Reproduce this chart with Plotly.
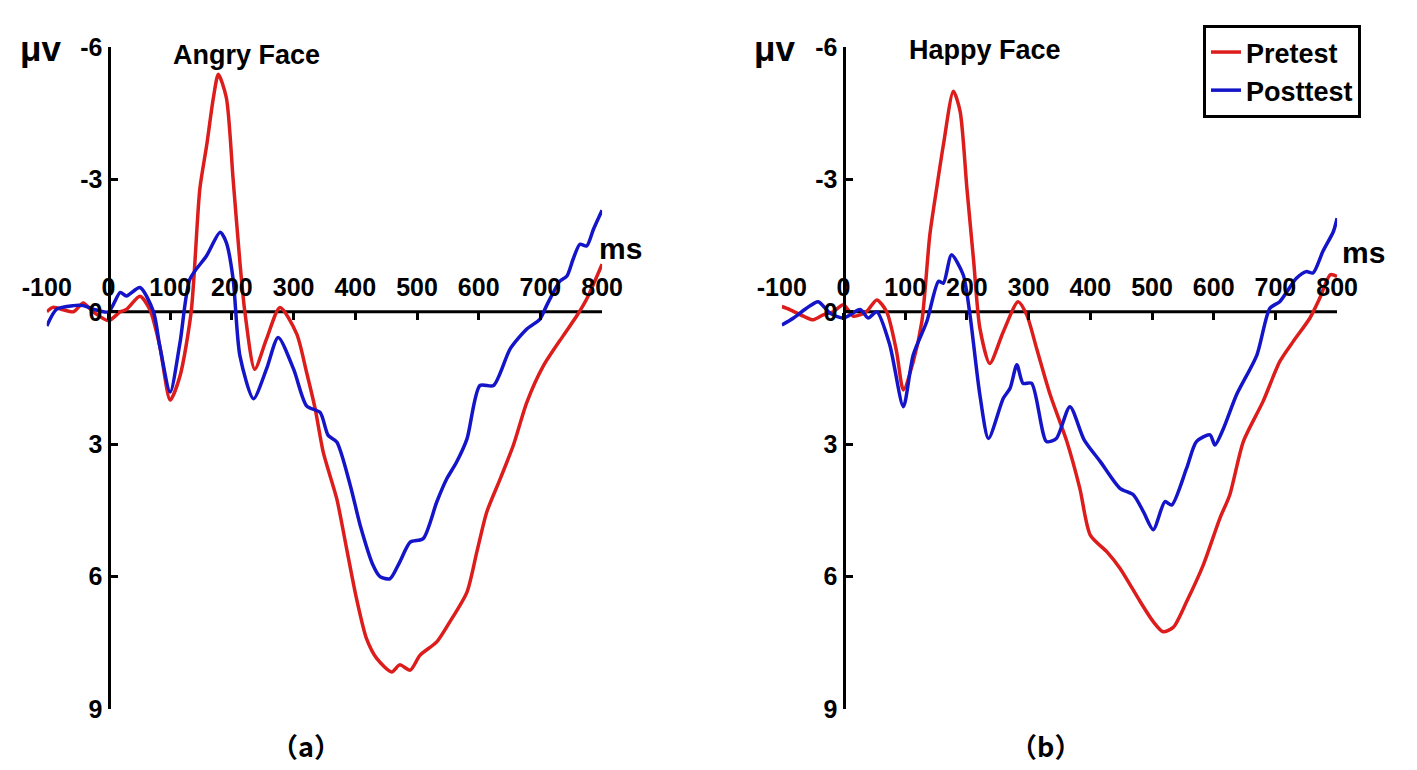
import plotly.graph_objects as go

# Angry face (a)
angry_pre_t = [-100, -90, -57, -41, -25, 0, 19, 29, 51, 67, 83, 100, 116, 134, 148, 159, 170, 178,
               191, 202, 213, 221, 237, 256, 278, 305, 321, 335, 348, 370, 386, 402, 418, 435, 459,
               472, 489, 505, 532, 553, 581, 597, 613, 635, 656, 678, 705, 737, 759, 775, 800]
angry_pre_v = [0.0, -0.1, 0.0, -0.2, 0.0, 0.2, 0.0, -0.05, -0.35, -0.05, 0.77, 2.0, 1.45, 0.0, -2.78,
               -3.76, -4.85, -5.38, -4.85, -3.0, -1.12, 0.0, 1.3, 0.62, -0.1, 0.5, 1.37, 2.2, 3.18,
               4.24, 5.37, 6.5, 7.4, 7.86, 8.16, 8.0, 8.12, 7.78, 7.48, 7.03, 6.35, 5.44, 4.54, 3.78,
               3.03, 2.05, 1.22, 0.54, 0.09, -0.29, -1.08]

angry_post_t = [-100, -84, -57, -41, -25, 0, 19, 29, 51, 73, 83, 100, 116, 132, 159, 181, 191, 202,
                213, 235, 256, 275, 300, 321, 343, 356, 370, 392, 408, 429, 440, 456, 472, 489, 510,
                532, 548, 564, 581, 602, 624, 651, 678, 699, 710, 721, 732, 743, 753, 764, 775, 786, 800]
angry_post_v = [0.32, -0.06, -0.14, -0.14, -0.06, 0.0, -0.44, -0.36, -0.55, 0.0, 0.77, 1.82, 0.69,
                -0.74, -1.27, -1.8, -1.57, -0.74, 1.0, 1.97, 1.3, 0.58, 1.3, 2.13, 2.28, 2.8, 2.95,
                3.94, 4.84, 5.75, 6.0, 6.05, 5.67, 5.22, 5.14, 4.31, 3.79, 3.41, 2.88, 1.67, 1.67,
                0.84, 0.39, 0.17, -0.14, -0.44, -0.7, -0.81, -1.19, -1.53, -1.49, -1.87, -2.3]

# Happy face (b)
happy_pre_t = [-100, -87, -65, -49, -33, -17, 0, 16, 37, 54, 70, 86, 97, 113, 127, 140, 151, 162,
               178, 189, 200, 211, 221, 237, 259, 283, 297, 313, 335, 362, 383, 400, 427, 448, 481,
               502, 518, 535, 556, 583, 610, 626, 648, 680, 707, 729, 756, 772, 789, 800]
happy_pre_v = [-0.12, -0.05, 0.1, 0.18, 0.07, 0.0, -0.16, 0.1, 0.0, -0.27, 0.0, 0.9, 1.77, 1.13, 0.22,
               -1.75, -2.8, -3.79, -5.0, -4.54, -2.8, -1.14, 0.37, 1.17, 0.45, -0.23, 0.07, 0.83,
               1.88, 2.94, 4.0, 5.06, 5.44, 5.81, 6.57, 7.02, 7.25, 7.14, 6.57, 5.74, 4.68, 4.15,
               2.94, 2.03, 1.13, 0.67, 0.14, -0.31, -0.84, -0.8]

happy_post_t = [-100, -81, -60, -41, -22, 0, 27, 40, 54, 75, 97, 113, 135, 154, 162, 175, 194, 205,
                221, 235, 259, 270, 281, 291, 305, 329, 345, 367, 390, 416, 448, 470, 486, 502, 521,
                532, 556, 572, 594, 602, 616, 637, 670, 691, 707, 734, 750, 761, 777, 794, 800]
happy_post_v = [0.3, 0.14, -0.08, -0.23, 0.03, 0.14, -0.05, 0.14, 0.0, 0.75, 2.15, 0.98, 0.22, -0.69,
                -0.65, -1.29, -0.84, 0.07, 1.88, 2.87, 1.96, 1.73, 1.2, 1.62, 1.62, 2.94, 2.87, 2.15,
                2.9, 3.39, 4.0, 4.15, 4.53, 4.94, 4.3, 4.38, 3.55, 2.94, 2.79, 3.02, 2.64, 1.88, 0.98,
                -0.08, -0.23, -0.76, -0.91, -0.88, -1.37, -1.82, -2.12]

x_ticks = [-100, 0, 100, 200, 300, 400, 500, 600, 700, 800]
x_labels = ['-100', '0', '100', '200', '300', '400', '500', '600', '700', '800']
y_ticks = [-6, -3, 0, 3, 6, 9]
y_labels = ['-6', '-3', '0', '3', '6', '9']

RED = '#dd1c1c'
BLUE = '#1414c8'
W, H = 1417, 770
FONT = 'Liberation Sans, Arial, sans-serif'
CJK = 'Noto Sans CJK SC, sans-serif'


def px(x):
    return x / W


def py(y):
    return 1 - y / H


fig = go.Figure()

panels = [('x', 'y', angry_pre_t, angry_pre_v, angry_post_t, angry_post_v, True),
          ('x2', 'y2', happy_pre_t, happy_pre_v, happy_post_t, happy_post_v, False)]
for xa, ya, pt, pv, qt, qv, leg in panels:
    fig.add_trace(go.Scatter(x=pt, y=pv, xaxis=xa, yaxis=ya, mode='lines', name='Pretest',
                             line=dict(color=RED, width=3.5, shape='spline', smoothing=0.7),
                             showlegend=leg))
    fig.add_trace(go.Scatter(x=qt, y=qv, xaxis=xa, yaxis=ya, mode='lines', name='Posttest',
                             line=dict(color=BLUE, width=3.5, shape='spline', smoothing=0.7),
                             showlegend=leg))

# y domain: -6 at 47px, 9 at 709px
y_dom = [py(709), py(47)]
y_zero = y_dom[0] + (9 - 0) / 15 * (y_dom[1] - y_dom[0])

tick_font = dict(family=FONT, size=25, color='black', weight='bold')

for i, zero_px in enumerate([108.5, 843.5]):
    sfx = '' if i == 0 else str(i + 1)
    xdom = [px(zero_px - 61.7), px(zero_px + 8 * 61.7)]
    fig.update_layout(**{
        'xaxis' + sfx: dict(domain=xdom, range=[-100, 800], anchor='free', position=y_zero,
                            side='top', ticks='inside', ticklen=7, tickwidth=3, tickcolor='black',
                            tickvals=x_ticks, ticktext=x_labels, showline=False, showgrid=False,
                            zeroline=False, tickfont=tick_font, ticklabelstandoff=11,
                            automargin=False),
        'yaxis' + sfx: dict(domain=y_dom, range=[9, -6], anchor='free', position=px(zero_px),
                            side='left', ticks='inside', ticklen=7, tickwidth=3, tickcolor='black',
                            tickvals=y_ticks, ticktext=y_labels, showline=True, linewidth=3,
                            linecolor='black', showgrid=False, zeroline=False, tickfont=tick_font,
                            automargin=False),
    })
    # x axis line from 0 to 800 at y = 0
    fig.add_shape(type='line', xref='x' + sfx, yref='y' + sfx, x0=0, x1=800, y0=0, y1=0,
                  line=dict(color='black', width=3), layer='below')

texts = [
    ('μv', 18, 48, 35, 'left', FONT), ('μv', 752, 48, 35, 'left', FONT),
    ('ms', 597, 248, 30, 'left', FONT), ('ms', 1340, 253, 30, 'left', FONT),
    ('Angry Face', 246, 55, 27, 'center', FONT), ('Happy Face', 985, 50, 27, 'center', FONT),
    ('（a）', 306, 745, 27, 'center', CJK), ('（b）', 1045, 745, 27, 'center', CJK),
]
for t, x, y, s, xa, fam in texts:
    fig.add_annotation(text=t, x=px(x), y=py(y), xref='paper', yref='paper', xanchor=xa,
                       yanchor='middle', showarrow=False,
                       font=dict(family=fam, size=s, color='black', weight='bold'))

fig.update_layout(
    width=W, height=H,
    margin=dict(l=0, r=0, t=0, b=0, autoexpand=False),
    plot_bgcolor='white', paper_bgcolor='white',
    legend=dict(x=px(1203), y=py(25), xanchor='left', yanchor='top',
                bordercolor='black', borderwidth=3, bgcolor='white',
                font=dict(family=FONT, size=27, color='black', weight='bold'),
                tracegroupgap=0, itemwidth=30, entrywidth=150, entrywidthmode='pixels'),
)

fig.write_html('out.html', config={'displayModeBar': False},
               post_script="document.body.style.margin='0';")
